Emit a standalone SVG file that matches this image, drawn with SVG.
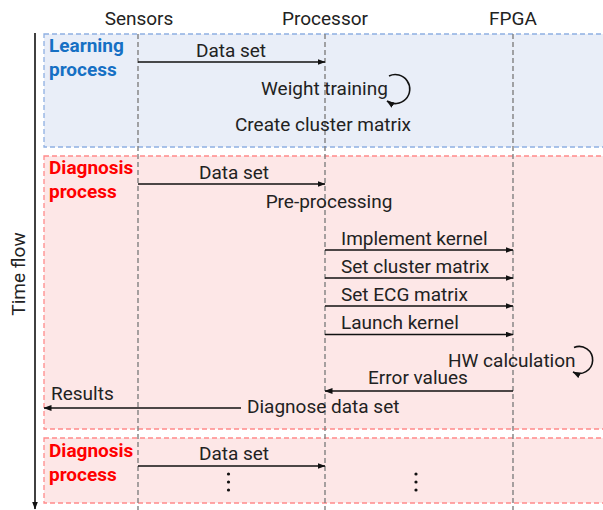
<svg xmlns="http://www.w3.org/2000/svg" width="603" height="510" viewBox="0 0 603 510">
  <defs>
    <marker id="arrow" markerWidth="8" markerHeight="6" refX="7.5" refY="3" orient="auto" markerUnits="userSpaceOnUse">
      <path d="M0,0 L8,3 L0,6 Z" fill="#111"/>
    </marker>
    <style>
      text { font-family: Roboto, "Liberation Sans", sans-serif; font-size: 19px; fill: #222; }
      .phase-learn { fill: #e9eef8; stroke: #8fb0e2; stroke-width: 1.3; stroke-dasharray: 5 3; }
      .phase-diag { fill: #fde7e7; stroke: #ff8a8a; stroke-width: 1.3; stroke-dasharray: 5 3; }
      .lifeline { stroke: #808080; stroke-width: 1.4; stroke-dasharray: 5 3; fill: none; }
      .msg { stroke: #111; stroke-width: 1.6; fill: none; marker-end: url(#arrow); }
      .title-learn { font-weight: bold; fill: #1670c4; }
      .title-diag { font-weight: bold; fill: #ff0000; }
      .mid { text-anchor: middle; }
      .dot { fill: #111; }
    </style>
  </defs>

  <rect width="603" height="510" fill="#ffffff"/>

  <!-- phase backgrounds -->
  <g id="learning-phase">
    <rect class="phase-learn" x="44" y="34" width="561" height="113"/>
    <text class="title-learn" x="49" y="52">Learning</text>
    <text class="title-learn" x="49" y="76">process</text>
  </g>
  <g id="diagnosis-phase-1">
    <rect class="phase-diag" x="44" y="156" width="561" height="273"/>
    <text class="title-diag" x="49" y="174">Diagnosis</text>
    <text class="title-diag" x="49" y="198">process</text>
  </g>
  <g id="diagnosis-phase-2">
    <rect class="phase-diag" x="44" y="438" width="561" height="65"/>
    <text class="title-diag" x="49" y="457">Diagnosis</text>
    <text class="title-diag" x="49" y="481">process</text>
  </g>

  <!-- time axis -->
  <g id="time-axis">
    <line x1="35" y1="33" x2="35" y2="509" stroke="#111" stroke-width="1.6" marker-end="url(#arrow)"/>
    <text class="mid" transform="translate(25,274) rotate(-90)">Time flow</text>
  </g>

  <!-- participants and lifelines -->
  <g id="sensors">
    <text class="mid" x="139" y="25">Sensors</text>
    <line class="lifeline" x1="138" y1="34" x2="138" y2="510"/>
  </g>
  <g id="processor">
    <text class="mid" x="325" y="25">Processor</text>
    <line class="lifeline" x1="325" y1="34" x2="325" y2="510"/>
  </g>
  <g id="fpga">
    <text class="mid" x="513" y="25">FPGA</text>
    <line class="lifeline" x1="513" y1="34" x2="513" y2="510"/>
  </g>

  <!-- messages -->
  <g id="connectors">
    <line class="msg" x1="138" y1="62" x2="325" y2="62"/>
    <path class="msg" d="M389,76 A14.5,14.5 0 1 1 387,101"/>

    <line class="msg" x1="138" y1="184" x2="325" y2="184"/>
    <line class="msg" x1="325" y1="250" x2="513" y2="250"/>
    <line class="msg" x1="325" y1="278" x2="513" y2="278"/>
    <line class="msg" x1="325" y1="306" x2="513" y2="306"/>
    <line class="msg" x1="325" y1="334.5" x2="513" y2="334.5"/>
    <path class="msg" d="M574,347.5 A13.5,13.5 0 1 1 573,372"/>
    <line class="msg" x1="513" y1="391" x2="325" y2="391"/>
    <line class="msg" x1="241" y1="408" x2="44" y2="408"/>

    <line class="msg" x1="138" y1="466" x2="325" y2="466"/>
  </g>

  <!-- message labels -->
  <g id="labels">
    <text class="mid" x="231" y="57">Data set</text>
    <text x="261" y="95">Weight training</text>
    <text class="mid" x="323" y="131">Create cluster matrix</text>

    <text class="mid" x="234" y="179">Data set</text>
    <text class="mid" x="329" y="208">Pre-processing</text>
    <text x="341" y="245">Implement kernel</text>
    <text x="341" y="273">Set cluster matrix</text>
    <text x="341" y="301">Set ECG matrix</text>
    <text x="341" y="329">Launch kernel</text>
    <text x="448" y="367">HW calculation</text>
    <text class="mid" x="418" y="384">Error values</text>
    <text x="51" y="400">Results</text>
    <text x="247" y="413">Diagnose data set</text>

    <text class="mid" x="234" y="460">Data set</text>
  </g>

  <!-- continuation marks -->
  <g id="ellipsis">
    <circle class="dot" cx="228.5" cy="474" r="1.6"/>
    <circle class="dot" cx="228.5" cy="482" r="1.6"/>
    <circle class="dot" cx="228.5" cy="490" r="1.6"/>
    <circle class="dot" cx="416" cy="474" r="1.6"/>
    <circle class="dot" cx="416" cy="482" r="1.6"/>
    <circle class="dot" cx="416" cy="490" r="1.6"/>
  </g>
</svg>
